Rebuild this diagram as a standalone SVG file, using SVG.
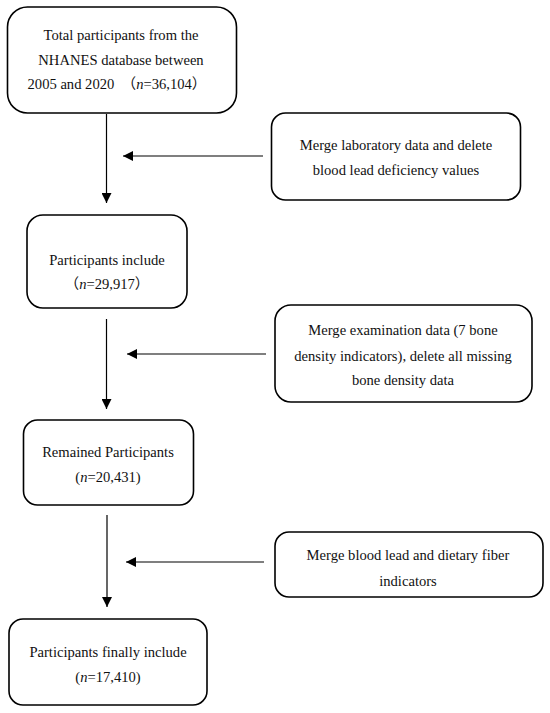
<svg xmlns="http://www.w3.org/2000/svg" width="550" height="713" viewBox="0 0 550 713">
<style>
.box{fill:#fff;stroke:#000;stroke-width:1.6}
.t{font-family:"Liberation Serif","Noto Sans CJK SC",serif;font-size:14.6px;fill:#111;text-anchor:middle}
.c{stroke:#000;stroke-width:1.2;fill:none}
</style>
<defs>
<marker id="ah" viewBox="0 0 10 10" refX="10" refY="5" markerWidth="10" markerHeight="10" markerUnits="userSpaceOnUse" orient="auto">
<path d="M0,0 L10,5 L0,10 Z" fill="#000"/>
</marker>
</defs>
<rect width="550" height="713" fill="#fff"/>
<g id="connectors">
<line class="c" x1="106.5" y1="114" x2="106.5" y2="203" marker-end="url(#ah)"/>
<line class="c" x1="263" y1="156" x2="123" y2="156" marker-end="url(#ah)"/>
<line class="c" x1="106.5" y1="319" x2="106.5" y2="409" marker-end="url(#ah)"/>
<line class="c" x1="266" y1="354" x2="127" y2="354" marker-end="url(#ah)"/>
<line class="c" x1="107" y1="515" x2="107" y2="607" marker-end="url(#ah)"/>
<line class="c" x1="264" y1="562" x2="126" y2="562" marker-end="url(#ah)"/>
</g>
<g id="n1">
<rect class="box" x="7.5" y="7" width="229" height="106" rx="20"/>
<text class="t" x="121" y="40">Total participants from the</text>
<text class="t" x="121" y="65">NHANES database between</text>
<text class="t" x="117" y="89">2005 and 2020　（<tspan font-style="italic">n</tspan>=36,104）</text>
</g>
<g id="n2">
<rect class="box" x="27" y="215" width="160" height="93" rx="16"/>
<text class="t" x="107" y="265">Participants include</text>
<text class="t" x="107" y="289">（<tspan font-style="italic">n</tspan>=29,917）</text>
</g>
<g id="n3">
<rect class="box" x="23.5" y="420" width="170" height="85" rx="14"/>
<text class="t" x="108" y="457">Remained Participants</text>
<text class="t" x="108" y="482">(<tspan font-style="italic">n</tspan>=20,431)</text>
</g>
<g id="n4">
<rect class="box" x="9" y="619" width="198" height="86" rx="14"/>
<text class="t" x="108" y="657">Participants finally include</text>
<text class="t" x="108" y="682">(<tspan font-style="italic">n</tspan>=17,410)</text>
</g>
<g id="r1">
<rect class="box" x="271.5" y="113" width="249" height="87" rx="14"/>
<text class="t" x="396" y="150">Merge laboratory data and delete</text>
<text class="t" x="396" y="175">blood lead deficiency values</text>
</g>
<g id="r2">
<rect class="box" x="275" y="305" width="257" height="97" rx="16"/>
<text class="t" x="403" y="335">Merge examination data (7 bone</text>
<text class="t" x="403" y="361">density indicators), delete all missing</text>
<text class="t" x="403" y="385">bone density data</text>
</g>
<g id="r3">
<rect class="box" x="275" y="532" width="268" height="65" rx="14"/>
<text class="t" x="408" y="560">Merge blood lead and dietary fiber</text>
<text class="t" x="408" y="586">indicators</text>
</g>
</svg>
